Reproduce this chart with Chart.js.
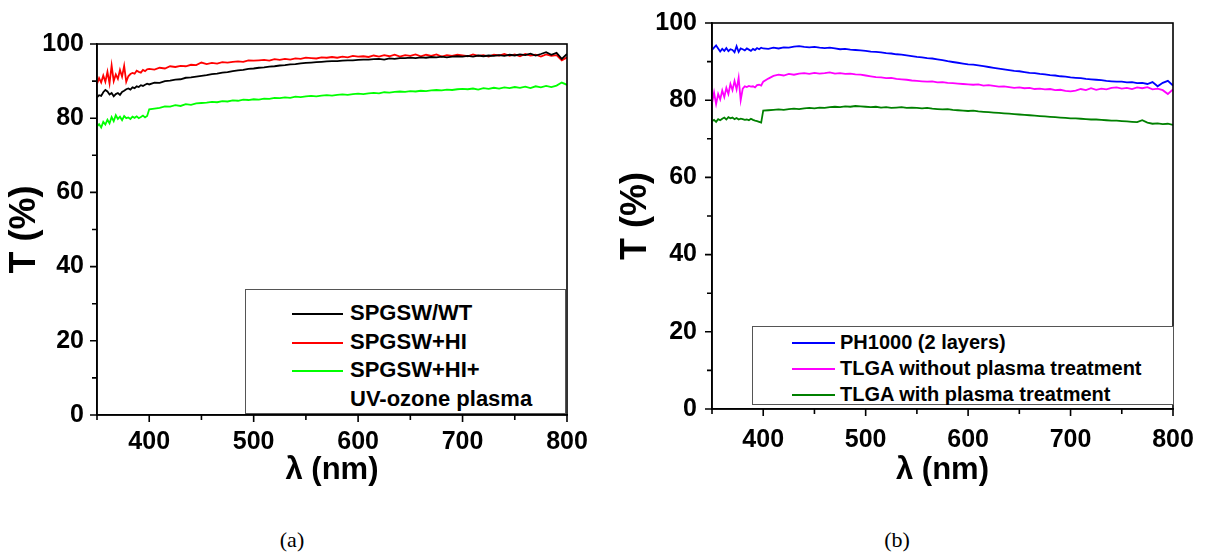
<!DOCTYPE html>
<html>
<head>
<meta charset="utf-8">
<script src="https://cdn.jsdelivr.net/npm/chart.js@4.4.1/dist/chart.umd.min.js"></script>
<style>
  html,body{margin:0;padding:0;background:#fff;}
  #wrap{position:relative;width:1209px;height:556px;background:#fff;overflow:hidden;}
  canvas{position:absolute;top:0;}
  .legend{position:absolute;border:1px solid #555;background:#fff;box-sizing:border-box;}
  .li{position:absolute;font-family:"Liberation Sans",Arial,sans-serif;font-weight:bold;color:#000;white-space:nowrap;line-height:1;}
  .ll{position:absolute;height:0;}
  .cap{position:absolute;font-family:"Liberation Serif","DejaVu Serif",serif;font-size:22px;color:#000;transform:translateX(-50%);}
</style>
</head>
<body>
<div id="wrap">
  <canvas id="ca" width="600" height="500" style="left:0px"></canvas>
  <canvas id="cb" width="609" height="500" style="left:600px"></canvas>
  <div class="cap" style="left:292px;top:527px">(a)</div>
  <div class="cap" style="left:897px;top:527px">(b)</div>
</div>
<script>
// ---------- DATA ----------
const wavelength = [350,352,354,356,358,360,362,364,366,368,370,372,374,376,378,380,382,384,386,388,390,392,394,396,398,400,
  405,410,415,420,425,430,435,440,445,450,455,460,465,470,475,480,485,490,495,500,
  505,510,515,520,525,530,535,540,545,550,555,560,565,570,575,580,585,590,595,600,
  605,610,615,620,625,630,635,640,645,650,655,660,665,670,675,680,685,690,695,700,
  705,710,715,720,725,730,735,740,745,750,755,760,765,770,775,780,785,790,795,800];

const xTickLabels = [400,500,600,700,800];
const yTickLabels = [0,20,40,60,80,100];

// (a)
const spgswWT = [85.6,86.2,86.0,87.0,87.6,87.2,86.4,86.8,85.9,86.5,86.8,86.3,87.1,87.4,87.8,88.0,87.7,88.3,88.1,88.6,88.4,88.9,88.7,89.0,89.3,89.1,
  89.6,89.5,90.0,90.1,90.4,90.5,90.9,91.0,91.2,91.4,91.6,91.9,92.0,92.3,92.4,92.7,92.9,93.0,93.3,93.4,
  93.6,93.7,93.9,94.0,94.2,94.3,94.5,94.6,94.8,94.9,95.0,95.1,95.2,95.3,95.4,95.4,95.5,95.6,95.6,95.7,
  95.8,95.8,95.9,96.0,95.8,96.1,96.0,96.2,96.2,96.3,96.2,96.4,96.3,96.5,96.4,96.6,96.4,96.6,96.7,96.6,
  96.8,96.6,96.9,96.7,96.9,96.8,97.0,96.8,97.1,96.9,97.2,97.0,97.4,96.9,97.3,97.8,97.1,97.6,96.0,97.3];
const spgswHI = [89.2,90.8,89.6,91.5,89.8,92.5,89.4,94.2,90.0,91.8,90.6,93.0,91.2,94.1,89.8,91.3,91.9,92.2,92.0,92.8,92.5,92.3,93.0,92.7,93.2,93.3,
  93.1,93.6,93.4,94.0,93.8,94.1,94.0,94.4,94.3,95.0,94.6,94.9,94.7,95.1,95.0,95.2,95.3,95.2,95.6,95.5,
  95.6,95.7,95.5,95.9,95.7,96.0,95.8,96.1,96.0,96.3,96.2,96.1,96.4,96.3,96.5,96.3,96.6,96.4,96.8,96.6,
  96.7,96.5,96.9,96.6,97.0,96.7,97.1,96.6,97.0,96.8,97.2,96.7,97.1,96.8,97.2,96.6,97.0,96.8,97.1,96.9,
  96.7,97.2,96.8,97.0,96.6,97.1,96.9,97.3,96.8,97.2,96.7,97.3,96.9,97.1,96.6,97.2,96.8,97.0,95.6,96.4];
const spgswHIUV = [77.8,78.4,77.5,79.0,78.3,79.6,78.6,80.3,79.2,80.8,79.8,80.4,79.5,80.6,80.0,80.2,79.8,80.4,80.1,80.5,80.0,80.3,80.7,80.2,80.6,82.4,
  82.6,82.8,83.2,83.1,83.5,83.3,83.8,83.6,84.0,84.1,84.2,84.4,84.3,84.6,84.5,84.8,84.7,85.0,84.9,85.1,
  85.0,85.3,85.2,85.5,85.4,85.6,85.5,85.8,85.7,85.9,86.0,85.9,86.1,86.2,86.1,86.3,86.4,86.3,86.5,86.6,
  86.5,86.7,86.8,86.7,87.0,86.9,87.1,87.2,87.1,87.3,87.2,87.4,87.3,87.5,87.6,87.5,87.7,87.6,87.8,87.9,
  87.8,88.0,87.7,88.1,87.9,88.2,88.0,88.3,88.1,88.4,88.2,88.5,88.1,88.6,88.3,88.7,88.4,88.8,89.6,89.0];

// (b)
const ph1000 = [93.0,93.6,94.2,93.4,92.6,93.3,92.8,93.5,92.7,93.2,93.0,92.4,94.0,92.5,93.4,93.2,92.9,93.4,93.1,92.8,93.3,93.0,93.5,93.2,93.6,93.4,
  93.3,93.6,93.4,93.7,93.6,93.9,94.0,93.8,93.7,93.8,93.6,93.5,93.6,93.4,93.2,93.3,93.1,93.0,92.9,92.8,
  92.6,92.5,92.4,92.2,92.1,91.9,91.8,91.6,91.4,91.2,91.1,90.9,90.8,90.6,90.4,90.1,89.9,89.7,89.5,89.3,
  89.2,89.0,88.8,88.6,88.4,88.2,88.0,87.8,87.6,87.5,87.3,87.1,87.0,86.8,86.7,86.5,86.4,86.2,86.1,85.9,
  85.8,85.7,85.5,85.4,85.3,85.2,85.0,84.9,84.8,84.8,84.6,84.7,84.4,84.5,84.2,84.7,83.6,84.5,85.0,83.8];
const tlgaNoPlasma = [79.2,82.0,79.0,81.6,80.2,82.5,80.8,83.2,81.6,84.2,82.6,85.0,82.8,85.8,80.0,83.0,83.6,83.4,83.7,83.5,83.6,83.3,83.9,84.0,83.8,84.8,
  85.6,86.3,86.6,86.4,86.8,86.6,86.9,87.0,86.8,87.1,86.9,87.0,87.2,86.9,87.0,86.8,86.9,86.7,86.6,86.4,
  86.2,86.0,85.9,85.7,85.8,85.5,85.4,85.3,85.1,85.0,84.9,84.8,84.9,84.6,84.7,84.5,84.4,84.3,84.2,84.1,
  84.0,84.1,83.8,83.9,83.7,83.5,83.6,83.4,83.2,83.3,83.1,83.2,82.9,83.0,82.8,82.9,82.6,82.7,82.4,82.3,
  82.5,82.9,82.6,83.1,82.7,83.0,82.8,83.2,83.3,83.0,83.2,82.9,83.3,83.1,83.4,82.8,83.0,82.6,81.6,82.8];
const tlgaPlasma = [74.6,74.9,74.4,75.1,74.8,75.2,75.5,75.0,75.6,75.3,75.5,75.1,75.4,75.0,75.2,75.1,74.9,75.0,74.8,75.2,74.9,74.7,74.6,74.4,74.2,77.3,
  77.4,77.5,77.6,77.5,77.7,77.8,77.7,77.9,78.0,77.9,78.1,78.0,78.2,78.3,78.2,78.4,78.3,78.5,78.4,78.3,
  78.2,78.3,78.1,78.2,78.0,78.1,78.2,78.0,78.1,78.0,77.9,78.0,77.8,77.7,77.6,77.7,77.5,77.4,77.3,77.2,
  77.3,77.1,77.0,76.9,76.8,76.7,76.6,76.5,76.4,76.3,76.2,76.1,76.0,75.9,75.8,75.7,75.6,75.5,75.4,75.3,
  75.3,75.2,75.1,75.0,75.0,74.9,74.8,74.7,74.7,74.6,74.5,74.4,74.3,74.8,74.2,73.9,74.0,73.8,73.9,73.6];

const seriesA = [
  {label:["SPGSW/WT"], values: spgswWT, color:"#000000"},
  {label:["SPGSW+HI"], values: spgswHI, color:"#ff0000"},
  {label:["SPGSW+HI+","UV-ozone plasma"], values: spgswHIUV, color:"#00ff00"}
];
const seriesB = [
  {label:["PH1000 (2 layers)"], values: ph1000, color:"#0000ff"},
  {label:["TLGA without plasma treatment"], values: tlgaNoPlasma, color:"#ff00ff"},
  {label:["TLGA with plasma treatment"], values: tlgaPlasma, color:"#008000"}
];

// ---------- CHART ----------
const FONT = "'Liberation Sans', Arial, sans-serif";

const frameTicks = {
  id: 'frameTicks',
  afterDraw(chart) {
    const {ctx, chartArea:{left,right,top,bottom}, scales:{x,y}} = chart;
    ctx.save();
    ctx.strokeStyle = '#000';
    ctx.lineWidth = 1.6;
    ctx.strokeRect(left, top, right-left, bottom-top);
    ctx.beginPath();
    x.ticks.forEach(t => {
      const px = x.getPixelForValue(t.value);
      const len = xTickLabels.includes(t.value) ? 7 : 5;
      ctx.moveTo(px, bottom); ctx.lineTo(px, bottom+len);
    });
    y.ticks.forEach(t => {
      const py = y.getPixelForValue(t.value);
      const len = yTickLabels.includes(t.value) ? 7 : 5;
      ctx.moveTo(left, py); ctx.lineTo(left-len, py);
    });
    ctx.stroke();
    ctx.restore();
  }
};

function makeChart(id, series, geo) {
  const datasets = series.map(s => ({
    label: s.label.join(' '),
    data: wavelength.map((w,i) => ({x:w, y:s.values[i]})),
    borderColor: s.color,
    backgroundColor: s.color,
    borderWidth: 1.8,
    pointRadius: 0,
    tension: 0,
    fill: false
  }));
  return new Chart(document.getElementById(id), {
    type: 'line',
    data: {datasets},
    options: {
      responsive: false,
      animation: false,
      devicePixelRatio: 1,
      layout: {padding: {left:0, top:geo.top, right:geo.right, bottom:0}},
      plugins: {legend:{display:false}, tooltip:{enabled:false}},
      scales: {
        x: {
          type: 'linear', min: 350, max: 800,
          afterBuildTicks: sc => { const t=[]; for (let v=350; v<=800; v+=50) t.push({value:v}); sc.ticks = t; },
          afterFit: sc => { sc.height = geo.xh; },
          ticks: {
            autoSkip: false, maxRotation: 0,
            callback: v => xTickLabels.includes(v) ? String(v) : '',
            color: '#000', font: {family: FONT, weight: 'bold', size: geo.tickFs}, padding: geo.xpad
          },
          grid: {display:false, drawTicks:true, tickLength:7},
          border: {display:true, color:'#000', width:1.6},
          title: {display:true, text:'λ (nm)', color:'#000', font:{family:FONT, weight:'bold', size:geo.titleXFs}, padding:{top:0, bottom:geo.xtitlePad}}
        },
        y: {
          type: 'linear', min: 0, max: 100,
          afterBuildTicks: sc => { const t=[]; for (let v=0; v<=100; v+=10) t.push({value:v}); sc.ticks = t; },
          afterFit: sc => { sc.width = geo.yw; },
          ticks: {
            autoSkip: false,
            callback: v => yTickLabels.includes(v) ? String(v) : '',
            color: '#000', font: {family: FONT, weight: 'bold', size: geo.tickFs}, padding: geo.ypad
          },
          grid: {display:false, drawTicks:true, tickLength:7},
          border: {display:true, color:'#000', width:1.6},
          title: {display:true, text:'T (%)', color:'#000', font:{family:FONT, weight:'bold', size:geo.titleYFs}, padding:{top:geo.ytitlePad, bottom:0}}
        }
      }
    },
    plugins: [frameTicks]
  });
}

makeChart('ca', seriesA, {top:44, right:33, xh:85, yw:97, tickFs:25, titleXFs:31, titleYFs:36, xpad:5, ypad:6, xtitlePad:11, ytitlePad:3});
makeChart('cb', seriesB, {top:19, right:36, xh:91, yw:112, tickFs:25, titleXFs:31, titleYFs:36, xpad:9, ypad:8, xtitlePad:11, ytitlePad:14});

// ---------- LEGENDS (HTML) ----------
function makeLegend(series, box, item) {
  const wrap = document.getElementById('wrap');
  const lg = document.createElement('div');
  lg.className = 'legend';
  Object.assign(lg.style, {left:box.x+'px', top:box.y+'px', width:box.w+'px', height:box.h+'px'});
  wrap.appendChild(lg);
  let row = 0;
  series.forEach(s => {
    const ln = document.createElement('div');
    ln.className = 'll';
    Object.assign(ln.style, {left:item.lineX+'px', top:(item.y0 + row*item.dy)+'px', width:item.lineW+'px', borderTop:'2px solid '+s.color});
    wrap.appendChild(ln);
    s.label.forEach(txt => {
      const t = document.createElement('div');
      t.className = 'li';
      t.textContent = txt;
      Object.assign(t.style, {left:item.textX+'px', top:(item.y0 + row*item.dy - item.fs*0.5)+'px', fontSize:item.fs+'px'});
      wrap.appendChild(t);
      row++;
    });
  });
}
makeLegend(seriesA, {x:245, y:289, w:321, h:125}, {lineX:292, lineW:51, textX:350, y0:313, dy:28.5, fs:22});
makeLegend(seriesB, {x:752, y:326, w:422, h:79}, {lineX:792, lineW:43, textX:840, y0:342, dy:26, fs:20});
</script>
</body>
</html>
